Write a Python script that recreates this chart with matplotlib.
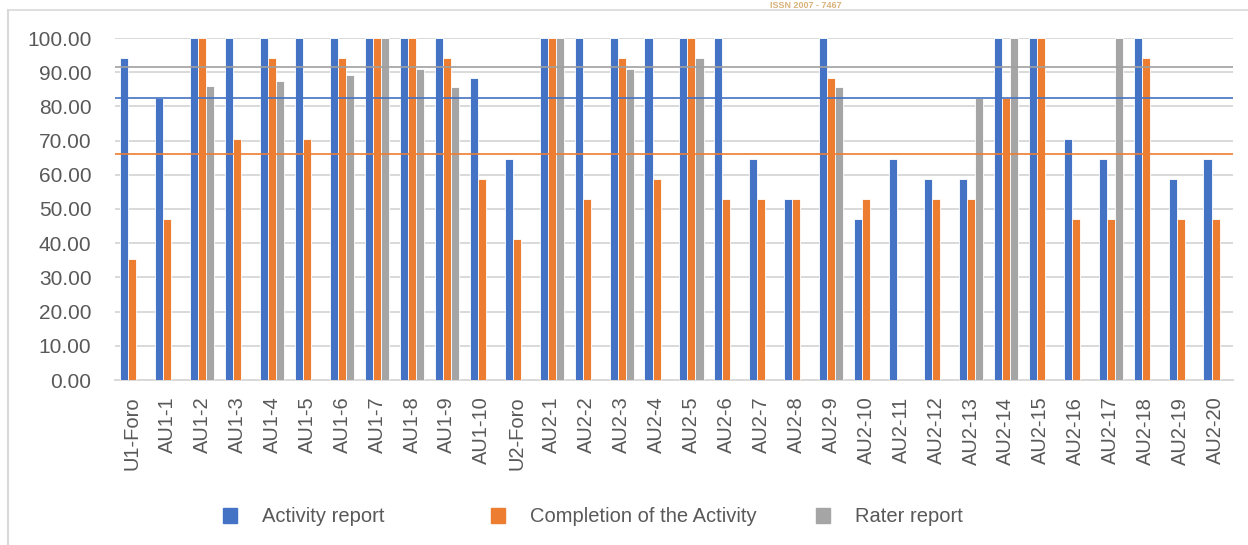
import numpy as np
import matplotlib
matplotlib.use("Agg")
import matplotlib.pyplot as plt
from matplotlib.lines import Line2D
from matplotlib.patches import Patch

categories = ["U1-Foro"] + [f"AU1-{i}" for i in range(1, 11)] + ["U2-Foro"] + [f"AU2-{i}" for i in range(1, 21)]

activity_report = [94.12, 82.35, 100, 100, 100, 100, 100, 100, 100, 100, 88.24,
                   64.71, 100, 100, 100, 100, 100, 100, 64.71, 52.94, 100, 47.06,
                   64.71, 58.82, 58.82, 100, 100, 70.59, 64.71, 100, 58.82, 64.71]
completion = [35.29, 47.06, 100, 70.59, 94.12, 70.59, 94.12, 100, 100, 94.12, 58.82,
              41.18, 100, 52.94, 94.12, 58.82, 100, 52.94, 52.94, 52.94, 88.24, 52.94,
              0, 52.94, 52.94, 82.35, 100, 47.06, 47.06, 94.12, 47.06, 47.06]
rater_report = [0, 0, 86.0, 0, 87.50, 0, 89.29, 100, 91.07, 85.71, 0,
                0, 100, 0, 91.07, 0, 94.12, 0, 0, 0, 85.71, 0,
                0, 0, 82.35, 100, 0, 0, 100, 0, 0, 0]

# reference lines (horizontal)
ref_rater = 91.6
ref_activity = 82.35
ref_completion = 66.0

series_names = ["Activity report", "Completion of the Activity", "Rater report"]
colors = ["#4472C4", "#ED7D31", "#A5A5A5"]

plt.rcParams['font.family'] = ['Liberation Sans', 'DejaVu Sans']
text_color = "#595959"
grid_color = "#D9D9D9"

fig = plt.figure(figsize=(12.48, 5.45), dpi=100)
ax = fig.add_axes([115 / 1248, 1 - 380 / 545, 1118 / 1248, 342 / 545])

x = np.arange(len(categories))
w = 0.23
for k, (vals, c) in enumerate(zip([activity_report, completion, rater_report], colors)):
    ax.bar(x + (k - 1) * w, vals, w, color=c, edgecolor="white", linewidth=0.6,
           zorder=3, label=series_names[k])

ax.axhline(ref_rater, color="#A0A0A0", lw=1.2, zorder=4)
ax.axhline(ref_activity, color="#4472C4", lw=1.2, zorder=4)
ax.axhline(ref_completion, color="#ED7D31", lw=1.2, zorder=4)

ax.set_xlim(-0.5, len(categories) - 0.5)
ax.set_ylim(0, 100)
ax.set_yticks(np.arange(0, 101, 10))
ax.set_yticklabels([f"{v:.2f}" for v in np.arange(0, 101, 10)])
ax.yaxis.grid(True, color=grid_color, lw=1.4, zorder=0)
ax.set_axisbelow(True)
ax.set_xticks(x)
ax.set_xticklabels(categories, rotation=90, va="top", ha="center")
ax.tick_params(axis="y", length=0, pad=17, labelsize=15, labelcolor=text_color)
ax.tick_params(axis="x", length=0, pad=12, labelsize=14.5, labelcolor=text_color)
for s in ["top", "right", "left"]:
    ax.spines[s].set_visible(False)
ax.spines["bottom"].set_color(grid_color)
ax.spines["bottom"].set_linewidth(1.4)

# legend entries placed individually (left edge of each square, px)
legend_pos = [223, 491, 816]
for name, c, px in zip(series_names, colors, legend_pos):
    fig.legend(handles=[Patch(facecolor=c, edgecolor=c)], labels=[name],
               loc="center left", bbox_to_anchor=((px - 18) / 1248, 1 - 517 / 545),
               frameon=False, handlelength=0.7, handleheight=0.7, handletextpad=1.25,
               fontsize=14.5, labelcolor=text_color)

# chart frame (cropped)
fig.add_artist(Line2D([8 / 1248, 1], [1 - 10 / 545] * 2, color=grid_color, lw=1.2,
                      transform=fig.transFigure))
fig.add_artist(Line2D([8 / 1248] * 2, [0, 1 - 10 / 545], color=grid_color, lw=1.5,
                      transform=fig.transFigure))

# header text above the frame
fig.text(770 / 1248, 1 - 1 / 545, "ISSN 2007 - 7467", fontsize=6.5, fontweight="bold",
         color="#D9B27A", va="top", ha="left")

fig.savefig("out.png", dpi=100)
